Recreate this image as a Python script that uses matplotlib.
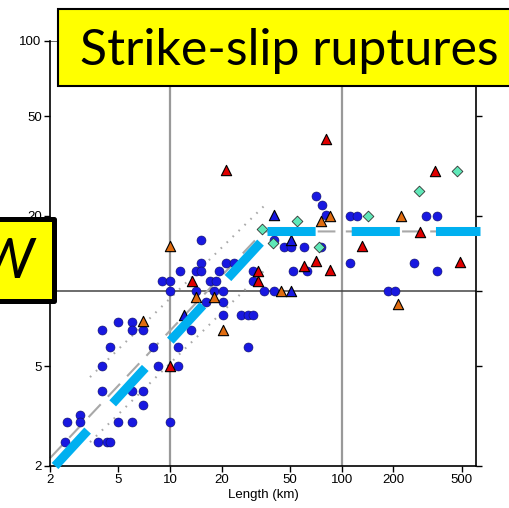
import matplotlib.pyplot as plt
from matplotlib.patches import Rectangle

# rupture length (km) vs width/slip
blue_L = [5.0, 6.0, 4.0, 6.0, 7.0, 4.5, 8.0, 11.1, 4.0, 8.5, 11.2, 4.0, 6.0, 7.0,
          7.0, 3.0, 2.5, 3.0, 5.0, 6.0, 10.0, 2.45, 3.8, 4.3, 4.5,
          15.1, 15.1, 21.1, 23.5, 11.5, 14.1, 15.1, 19.2, 30.4,
          9.0, 10.0, 17.2, 18.4, 30.4, 10.0, 14.1, 18.0, 20.3, 35.2, 40.3,
          16.1, 20.3, 20.3, 26.0, 28.4, 30.6, 13.2, 28.4,
          71, 77, 81, 111, 122, 40.3, 46, 50.7, 60.3, 75.9, 62.8, 52,
          112, 185, 203, 262, 357, 308, 357]
blue_W = [7.5, 7.5, 7.0, 7.0, 7.0, 6.0, 6.0, 6.0, 5.0, 5.0, 5.0, 4.0, 4.0, 4.0,
          3.5, 3.2, 3.0, 3.0, 3.0, 3.0, 3.0, 2.5, 2.5, 2.5, 2.5,
          16.0, 12.9, 12.9, 12.9, 12.0, 12.0, 12.0, 12.0, 12.0,
          11.0, 11.0, 11.0, 11.0, 11.0, 10.0, 10.0, 10.0, 10.0, 10.0, 10.0,
          9.0, 9.0, 8.0, 8.0, 8.0, 8.0, 7.0, 6.0,
          24.0, 22.1, 20.1, 20.0, 20.0, 16.0, 15.0, 15.0, 15.0, 15.0, 12.0, 12.0,
          13.0, 10.0, 10.0, 12.9, 12.0, 20.0, 20.0]

red_L = [9.94, 13.5, 32.5, 32.5, 60.3, 71, 85.6, 81, 21.1, 347, 284, 132, 486]
red_W = [5.0, 11.0, 12.0, 11.0, 12.6, 13.2, 12.1, 40.6, 30.5, 30.2, 17.2, 15.1, 13.1]

orange_L = [7.0, 10.0, 14.1, 18.0, 20.3, 44, 85.6, 76, 220, 214]
orange_W = [7.6, 15.1, 9.5, 9.5, 7.0, 10.0, 20.0, 19.0, 20.0, 8.9]

bluetri_L = [12.0, 40.3, 50.7, 50.7]
bluetri_W = [8.0, 20.1, 16.0, 10.0]

teal_L = [34.3, 39.7, 54.9, 73.8, 143, 280, 467]
teal_W = [17.7, 15.6, 19.0, 15.0, 20.0, 25.1, 30.2]

# scaling lines
gray_L = [2.0, 35.0, 620.0]
gray_W = [2.15, 17.3, 17.3]
upper_L = [3.42, 37.3]
upper_W = [4.53, 22.7]
lower_L = [3.42, 37.3]
lower_W = [2.49, 12.5]
diag_L = [2.14, 34.8]
diag_W = [2.0, 16.0]
flat_L = [36.8, 640.0]
flat_W = [17.3, 17.3]

xticks = [2, 5, 10, 20, 50, 100, 200, 500]
yticks = [2, 5, 10, 20, 50, 100]

fig = plt.figure(figsize=(5.1, 5.08), dpi=100)
ax = fig.add_axes([50 / 510, 42 / 508, 426 / 510, 425.3 / 508])
ax.set_xscale('log')
ax.set_yscale('log')
ax.set_xlim(2, 605)
ax.set_ylim(2, 100)

for gx in [10, 100]:
    ax.axvline(gx, color='#999999', lw=1.6, zorder=0)
for gy in [10, 100]:
    ax.axhline(gy, color='#444444', lw=1.1, zorder=0)

ax.plot(upper_L, upper_W, color='#aaaaaa', lw=1.5, ls=(0, (0.8, 3.2)), zorder=1)
ax.plot(lower_L, lower_W, color='#aaaaaa', lw=1.5, ls=(0, (0.8, 3.2)), zorder=1)
ax.plot(gray_L, gray_W, color='#a8a8a8', lw=1.5, ls=(0, (8.5, 5)), zorder=1, clip_on=False)

ax.scatter(blue_L, blue_W, s=42, marker='o', color='#1818e0', edgecolors='#101060', linewidths=0.4, zorder=3)
ax.scatter(bluetri_L, bluetri_W, s=55, marker='^', color='#1818e0', edgecolors='black', linewidths=0.8, zorder=4)
ax.scatter(red_L, red_W, s=55, marker='^', color='#e00000', edgecolors='black', linewidths=0.8, zorder=4)
ax.scatter(orange_L, orange_W, s=55, marker='^', color='#e06c10', edgecolors='black', linewidths=0.8, zorder=4)
ax.scatter(teal_L, teal_W, s=30, marker='D', color='#5fe8b8', edgecolors='#333333', linewidths=0.6, zorder=4)

ax.plot(diag_L, diag_W, color='#00b0f0', lw=6.5, ls=(0, (5.33, 4.1)), solid_capstyle='butt',
        dash_capstyle='butt', zorder=5, clip_on=False)
ax.plot(flat_L, flat_W, color='#00b0f0', lw=6.5, ls=(0, (5.33, 4.0)), dash_capstyle='butt',
        zorder=5, clip_on=False)

ax.set_xticks(xticks)
ax.set_xticklabels([str(v) for v in xticks])
ax.set_yticks(yticks)
ax.set_yticklabels([str(v) for v in yticks])
ax.minorticks_off()
ax.tick_params(axis='both', direction='out', length=4, width=1, labelsize=9.5, pad=2)
ax.tick_params(axis='y', right=True)
for lab in ax.get_xticklabels() + ax.get_yticklabels():
    lab.set_family('Liberation Sans')
ax.set_xlabel('Length (km)', fontsize=9.5, family='Liberation Sans', labelpad=2)
for sp in ['left', 'bottom', 'right']:
    ax.spines[sp].set_linewidth(1.2)
ax.spines['top'].set_visible(False)

# title box
fig.patches.append(Rectangle((58 / 510, 422 / 508), 470 / 510, 77 / 508, transform=fig.transFigure,
                             facecolor='#ffff00', edgecolor='black', lw=1.5, zorder=10))
title = fig.text(80 / 510, 443 / 508, 'Strike-slip ruptures', fontsize=36, family='Lato',
                 va='baseline', ha='left', zorder=11)
# squeeze the title so it spans the same width as in the reference
renderer = fig.canvas.get_renderer()
w = title.get_window_extent(renderer).width
if w > 420:
    title.set_fontsize(36 * 420 / w)

# W box
fig.patches.append(Rectangle((-10 / 510, 207.5 / 508), 64.5 / 510, 82 / 508, transform=fig.transFigure,
                             facecolor='#ffff00', edgecolor='black', lw=3.6, joinstyle='round', zorder=10))
fig.text(34 / 510, 230 / 508, 'W', fontsize=41, family='Lato', style='italic',
         va='baseline', ha='right', zorder=11)

fig.savefig('out.png', dpi=100)
